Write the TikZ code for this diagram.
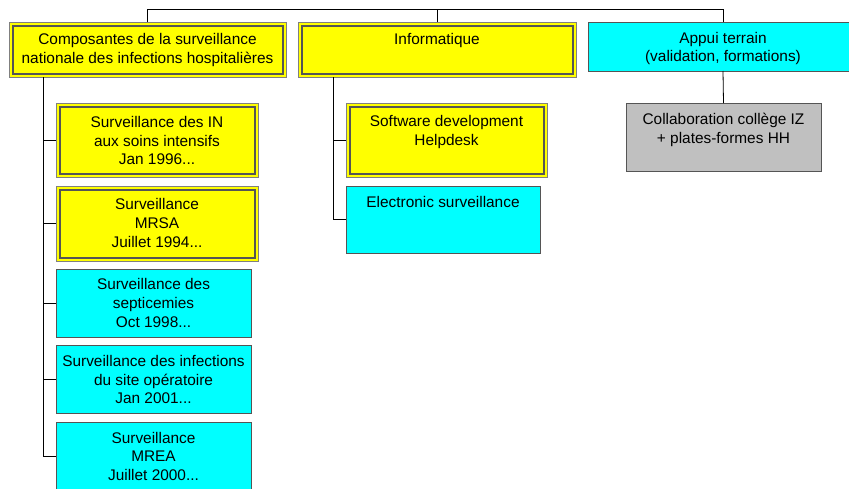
\documentclass[tikz,border=0pt]{standalone}
\usepackage{fontspec}
\setmainfont{Liberation Sans}
\definecolor{ybg}{HTML}{FFFF00}
\definecolor{cbg}{HTML}{00FFFF}
\definecolor{gbg}{HTML}{C0C0C0}
\definecolor{bline}{HTML}{555555}
\definecolor{oline}{HTML}{808080}
\begin{document}
\begin{tikzpicture}[x=1pt,y=-1pt,
  base/.style={inner sep=0pt, outer sep=0pt, line width=0.8pt},
  ybox/.style={base, fill=ybg, draw=oline,
    path picture={\draw[bline, line width=2pt]
      ([shift={(3.5,3.5)}]path picture bounding box.north west) rectangle
      ([shift={(-3.5,-3.5)}]path picture bounding box.south east);}},
  cbox/.style={base, fill=cbg, draw=bline},
  gbox/.style={base, fill=gbg, draw=bline},
  txt/.style={font=\fontsize{15.4}{18.8}\selectfont, align=center, inner sep=0pt, anchor=north},
  conn/.style={draw=black, line width=0.8pt}]
\useasboundingbox (0,0) rectangle (849,488);
\clip (0,0) rectangle (849,488);
% boxes
\node[ybox, minimum width=277, minimum height=55] (comp) at (147.5,49.5) {};
\node[ybox, minimum width=278, minimum height=55] (info) at (437,49.5) {};
\node[cbox, minimum width=270, minimum height=49] (appui) at (723,46.5) {};
\node[gbox, minimum width=195, minimum height=68] (collab) at (723.5,137) {};
\node[ybox, minimum width=202, minimum height=74] (in) at (157,140) {};
\node[ybox, minimum width=202, minimum height=75] (mrsa) at (157,223.5) {};
\node[cbox, minimum width=195, minimum height=68] (sept) at (153.5,303) {};
\node[cbox, minimum width=195, minimum height=68] (site) at (153.5,379) {};
\node[cbox, minimum width=195, minimum height=68] (mrea) at (153.5,456) {};
\node[ybox, minimum width=201, minimum height=74] (soft) at (446.5,140) {};
\node[cbox, minimum width=194, minimum height=67] (elec) at (443,219.5) {};
% texts
\node[txt] (tcomp) at ([yshift=-11.5pt]comp.north) {Composantes de la surveillance\\nationale des infections hospitalières};
\node[txt] (tinfo) at ([yshift=-11.5pt]info.north) {Informatique};
\node[txt] (tappui) at ([yshift=-9.7pt]appui.north) {Appui terrain\\(validation, formations)};
\node[txt] (tcollab) at ([yshift=-9.7pt]collab.north) {Collaboration collège IZ\\+ plates-formes HH};
\node[txt] (tin) at ([yshift=-13pt]in.north) {Surveillance des IN\\aux soins intensifs\\Jan 1996...};
\node[txt] (tmrsa) at ([yshift=-12.3pt]mrsa.north) {Surveillance\\MRSA\\Juillet 1994...};
\node[txt] (tsept) at ([yshift=-9.3pt]sept.north) {Surveillance des\\septicemies\\Oct 1998...};
\node[txt] (tsite) at ([yshift=-10pt]site.north) {Surveillance des infections\\du site opératoire\\Jan 2001...};
\node[txt] (tmrea) at ([yshift=-9.7pt]mrea.north) {Surveillance\\MREA\\Juillet 2000...};
\node[txt] (tsoft) at ([yshift=-12pt]soft.north) {Software development\\Helpdesk};
\node[txt] (telec) at ([yshift=-10pt]elec.north) {Electronic surveillance};
% connectors
\coordinate (bus) at (0,9);
\draw[conn] (comp.north) |- (bus -| appui.north) -- (appui.north);
\draw[conn] (info.north) -- (info.north |- bus);
\draw[conn] (appui.south) -- (collab.north);
\coordinate (ls) at (43,77);
\draw[conn] (ls) |- (mrea.west);
\draw[conn] (ls |- in.west) -- (in.west);
\draw[conn] (ls |- mrsa.west) -- (mrsa.west);
\draw[conn] (ls |- sept.west) -- (sept.west);
\draw[conn] (ls |- site.west) -- (site.west);
\coordinate (is) at (333,77);
\draw[conn] (is) |- (elec.west);
\draw[conn] (is |- soft.west) -- (soft.west);
\end{tikzpicture}
\end{document}
